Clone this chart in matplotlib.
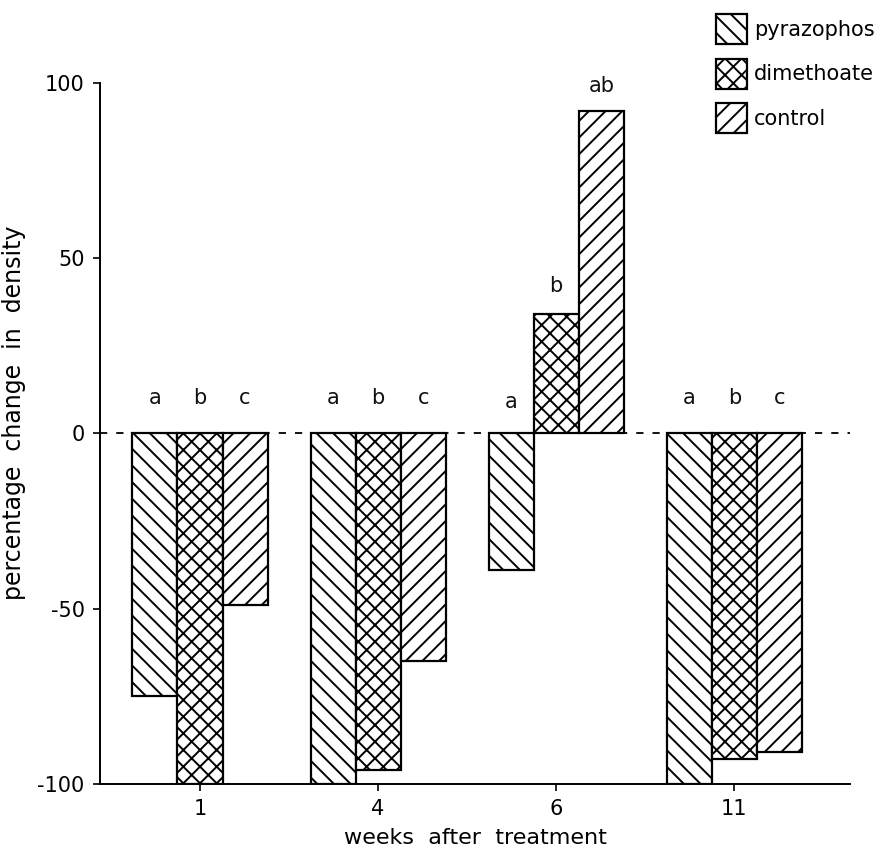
import matplotlib
matplotlib.use("Agg")
import matplotlib.pyplot as plt
import numpy as np
from matplotlib.patches import Patch

weeks = ["1", "4", "6", "11"]
series = ["pyrazophos", "dimethoate", "control"]
pyrazophos = [-75, -100, -39, -100]
dimethoate = [-100, -96, 34, -93]
control = [-49, -65, 92, -91]
letters_pyr = ["a", "a", "a", "a"]
letters_dim = ["b", "b", "b", "b"]
letters_con = ["c", "c", "ab", "c"]
letter_y_pyr = [10, 10, 9, 10]
letter_y_dim = [10, 10, 42, 10]
letter_y_con = [10, 10, 99, 10]
yticks = [-100, -50, 0, 50, 100]

plt.rcParams['font.family'] = ['DejaVu Sans']
plt.rcParams['axes.unicode_minus'] = False
plt.rcParams['hatch.linewidth'] = 1.4

fig = plt.figure(figsize=(8.92, 8.55), dpi=100)
ax = fig.add_axes([0.112, 0.083, 0.841, 0.820])

x = np.arange(len(weeks))
w = 0.253
hatches = ['\\\\', 'xx', '//']
vals = [pyrazophos, dimethoate, control]
letters = [letters_pyr, letters_dim, letters_con]
ly = [letter_y_pyr, letter_y_dim, letter_y_con]
for i, (v, h) in enumerate(zip(vals, hatches)):
    pos = x + (i - 1) * w
    ax.bar(pos, v, width=w, facecolor='white', edgecolor='black',
           linewidth=1.6, hatch=h, zorder=3)
    for p, t, yy in zip(pos, letters[i], ly[i]):
        ax.text(p, yy, t, ha='center', va='center', fontsize=15, color='#111111')

ax.axhline(0, color='black', linestyle=(0, (4, 5)), linewidth=1.3, zorder=2)

ax.set_xlim(-0.562, 3.65)
ax.set_ylim(-100, 100)
ax.set_yticks(yticks)
ax.set_yticklabels([str(t) for t in yticks])
ax.set_xticks(x)
ax.set_xticklabels(weeks)
ax.spines['top'].set_visible(False)
ax.spines['right'].set_visible(False)
ax.spines['left'].set_linewidth(1.4)
ax.spines['bottom'].set_linewidth(1.4)
ax.tick_params(axis='both', labelsize=15, direction='out', length=5, width=1.2, pad=6)
ax.set_ylabel("percentage  change  in  density", fontsize=17)
ax.yaxis.set_label_coords(-0.098, 0.53)
ax.set_xlabel("weeks  after  treatment", fontsize=16, labelpad=6)

handles = [Patch(facecolor='white', edgecolor='black', hatch=h, linewidth=1.6) for h in hatches]
fig.legend(handles, series, loc='upper left', bbox_to_anchor=(0.793, 0.993),
           frameon=False, fontsize=15, handlelength=1.5, handleheight=1.83,
           handletextpad=0.35, labelspacing=0.7, borderaxespad=0)

fig.savefig("out.png", dpi=100)
